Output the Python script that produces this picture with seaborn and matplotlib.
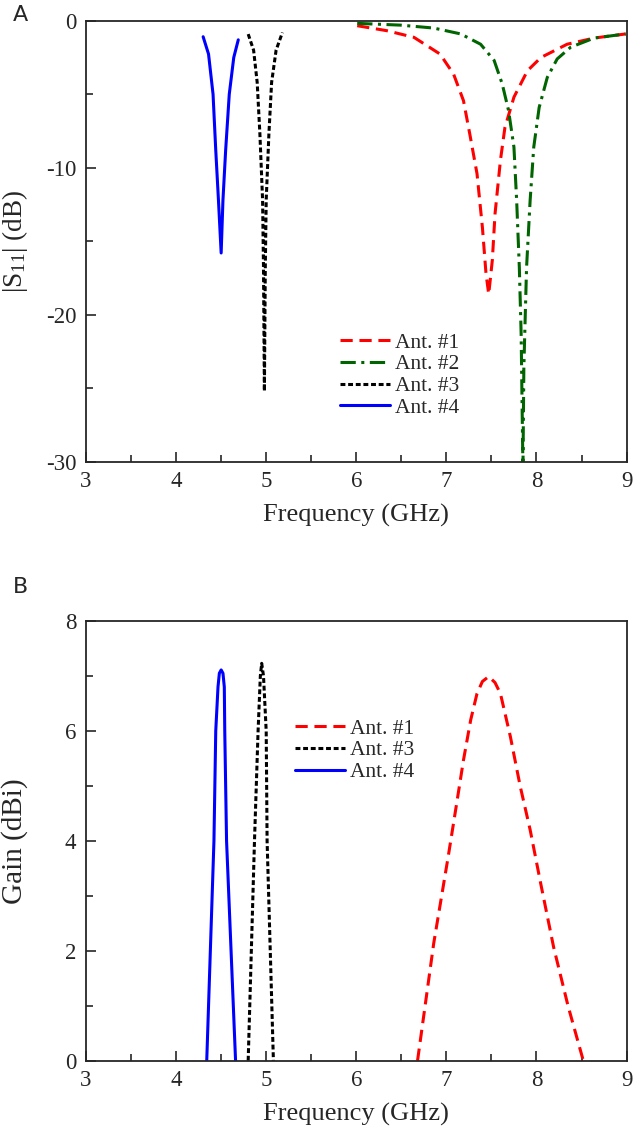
import numpy as np
import pandas as pd
import matplotlib
matplotlib.use("Agg")
import matplotlib.pyplot as plt
import seaborn as sns
from matplotlib.ticker import MultipleLocator

# |S11| (dB) - 그림에서 읽은 값
s11_f1 = [6.01, 6.34, 6.64, 6.93, 7.08, 7.19, 7.26, 7.34, 7.40, 7.44, 7.47,
          7.51, 7.54, 7.60, 7.65, 7.75, 7.90, 8.05, 8.34, 8.64, 8.99]
s11_a1 = [-0.34, -0.68, -1.13, -2.27, -3.63, -5.44, -7.71, -10.4, -14.06, -17.2, -18.6,
          -16.3, -13.15, -9.5, -7.26, -5.2, -3.4, -2.5, -1.6, -1.18, -0.9]

s11_f2 = [6.01, 6.49, 6.86, 7.16, 7.38, 7.53, 7.62, 7.69, 7.75, 7.78, 7.81, 7.83, 7.85,
          7.86, 7.89, 7.93, 7.97, 8.03, 8.12, 8.23, 8.38, 8.64, 8.99]
s11_a2 = [-0.18, -0.3, -0.5, -0.9, -1.6, -2.7, -4.3, -6.1, -8.6, -12.2, -16.8, -21.3, -30.5,
          -23.6, -16.8, -12.2, -8.6, -5.9, -3.86, -2.6, -1.8, -1.18, -0.9]

s11_f3 = [4.80, 4.86, 4.90, 4.93, 4.96, 4.97, 4.98, 4.99, 5.00, 5.03, 5.06, 5.11, 5.18]
s11_a3 = [-0.91, -2.0, -4.2, -7.7, -12.2, -16.8, -25.2, -16.8, -12.2, -7.7, -4.2, -2.0, -0.8]

s11_f4 = [4.30, 4.36, 4.41, 4.44, 4.47, 4.50, 4.52, 4.55, 4.59, 4.64, 4.69]
s11_a4 = [-1.09, -2.27, -5.0, -8.8, -12.2, -15.8, -12.2, -8.8, -5.0, -2.5, -1.3]

# Gain (dBi)
gain_f1 = [6.68, 6.86, 7.02, 7.12, 7.19, 7.27, 7.34, 7.40, 7.47, 7.54, 7.60,
           7.71, 7.82, 7.93, 8.05, 8.19, 8.35, 8.52]
gain_g1 = [0.0, 2.14, 3.71, 4.74, 5.47, 6.2, 6.68, 6.9, 6.99, 6.88, 6.68,
           5.9, 4.99, 4.2, 3.2, 2.07, 1.0, 0.0]

gain_f3 = [4.80, 4.87, 4.91, 4.935, 4.95, 4.97, 5.00, 5.01, 5.08]
gain_g3 = [0.0, 4.0, 6.0, 7.0, 7.23, 7.0, 6.0, 4.0, 0.0]

gain_f4 = [4.34, 4.42, 4.44, 4.465, 4.48, 4.50, 4.52, 4.535, 4.54, 4.56, 4.66]
gain_g4 = [0.0, 4.0, 6.0, 6.8, 7.05, 7.11, 7.05, 6.8, 6.0, 4.0, 0.0]

labels = ["Ant. #1", "Ant. #2", "Ant. #3", "Ant. #4"]

sns.set_style("ticks")
plt.rcParams['font.family'] = ['Liberation Serif', 'DejaVu Serif']
plt.rcParams['mathtext.fontset'] = 'custom'
plt.rcParams['mathtext.rm'] = 'Liberation Serif'
plt.rcParams['mathtext.it'] = 'Liberation Serif:italic'
plt.rcParams['axes.unicode_minus'] = False

styles = {
    "Ant. #1": dict(color='#ff0000', dashes=(4, 2.2)),
    "Ant. #2": dict(color='#006400', dashes=(5, 1.8, 1, 1.8)),
    "Ant. #3": dict(color='black', dashes=(1.6, 0.9)),
    "Ant. #4": dict(color='#0000ff', dashes=None),
}

fig = plt.figure(figsize=(6.33, 11.32), dpi=100)
ax1 = fig.add_axes([0.1359, 0.5921, 0.8539, 0.3896])
ax2 = fig.add_axes([0.1359, 0.0630, 0.8539, 0.3884])


def draw(ax, f, v, name):
    st = styles[name]
    sns.lineplot(x=f, y=v, ax=ax, color=st['color'], lw=2.2, label=name,
                 sort=False, estimator=None)
    line = ax.get_lines()[-1]
    if st['dashes'] is not None:
        line.set_dashes(st['dashes'])


draw(ax1, s11_f1, s11_a1, labels[0])
draw(ax1, s11_f2, s11_a2, labels[1])
draw(ax1, s11_f3, s11_a3, labels[2])
draw(ax1, s11_f4, s11_a4, labels[3])

draw(ax2, gain_f1, gain_g1, labels[0])
draw(ax2, gain_f3, gain_g3, labels[2])
draw(ax2, gain_f4, gain_g4, labels[3])

ax1.set_xlim(3, 9)
ax1.set_ylim(-30, 0)
ax1.yaxis.set_major_locator(MultipleLocator(10))
ax1.yaxis.set_minor_locator(MultipleLocator(5))
ax1.set_ylabel(r'|S$_{11}$| (dB)', fontsize=19.5)
ax1.yaxis.set_label_coords(-0.104, 0.5)

ax2.set_xlim(3, 9)
ax2.set_ylim(0, 8)
ax2.yaxis.set_major_locator(MultipleLocator(2))
ax2.yaxis.set_minor_locator(MultipleLocator(1))
ax2.set_ylabel('Gain (dBi)', fontsize=21)
ax2.yaxis.set_label_coords(-0.108, 0.5)

for ax in (ax1, ax2):
    ax.xaxis.set_major_locator(MultipleLocator(1))
    ax.xaxis.set_minor_locator(MultipleLocator(0.5))
    ax.set_xlabel('Frequency (GHz)', fontsize=19, labelpad=8)
    ax.tick_params(which='both', direction='in', top=False, right=False,
                   labelsize=16.5, width=1.2)
    ax.tick_params(which='major', length=7, pad=7)
    ax.tick_params(which='minor', length=5)
    for sp in ax.spines.values():
        sp.set_linewidth(1.3)
        sp.set_visible(True)

leg_kw = dict(loc='upper left', frameon=False, fontsize=15.5, handlelength=2.3,
              handletextpad=0.25, labelspacing=0.08, borderpad=0, borderaxespad=0)
ax1.legend(bbox_to_anchor=(0.470, 0.293), **leg_kw)
ax2.legend(bbox_to_anchor=(0.387, 0.778), **leg_kw)

fig.text(0.032, 0.9867, 'A', family='DejaVu Sans', fontsize=16, va='center', ha='center')
fig.text(0.032, 0.4817, 'B', family='DejaVu Sans', fontsize=16, va='center', ha='center')

fig.savefig('out.png', dpi=100)
